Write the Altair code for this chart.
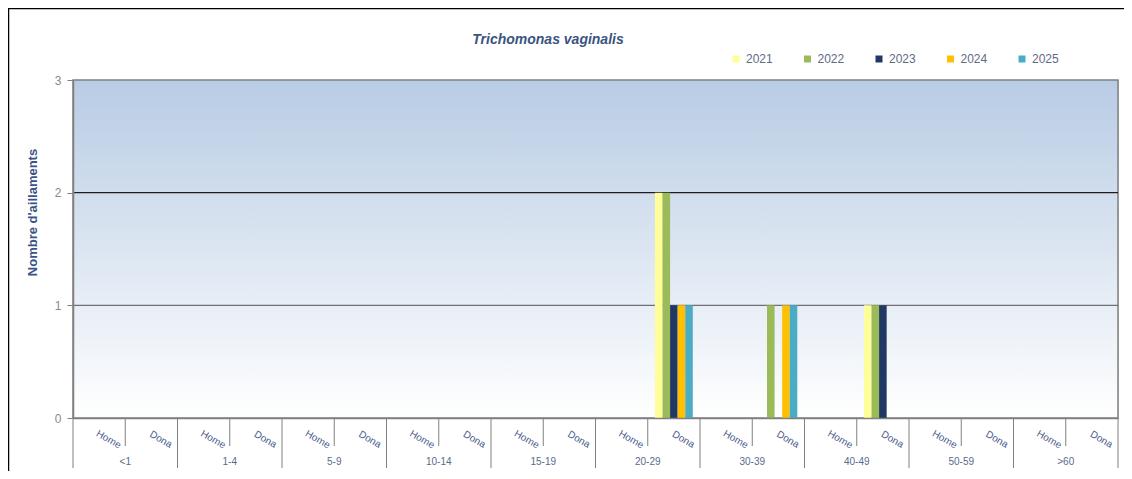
import altair as alt
import pandas as pd

# ---- data ----
age_groups = ["<1", "1-4", "5-9", "10-14", "15-19", "20-29", "30-39", "40-49", "50-59", ">60"]
sexes = ["Home", "Dona"]
years = ["2021", "2022", "2023", "2024", "2025"]
year_colors = ["#ffff99", "#9bbb59", "#1f3864", "#ffc000", "#4bacc6"]

home_2021 = [0, 0, 0, 0, 0, 0, 0, 0, 0, 0]
home_2022 = [0, 0, 0, 0, 0, 0, 0, 0, 0, 0]
home_2023 = [0, 0, 0, 0, 0, 0, 0, 0, 0, 0]
home_2024 = [0, 0, 0, 0, 0, 0, 0, 0, 0, 0]
home_2025 = [0, 0, 0, 0, 0, 0, 0, 0, 0, 0]

dona_2021 = [0, 0, 0, 0, 0, 2, 0, 1, 0, 0]
dona_2022 = [0, 0, 0, 0, 0, 2, 1, 1, 0, 0]
dona_2023 = [0, 0, 0, 0, 0, 1, 0, 1, 0, 0]
dona_2024 = [0, 0, 0, 0, 0, 1, 1, 0, 0, 0]
dona_2025 = [0, 0, 0, 0, 0, 1, 1, 0, 0, 0]

y_ticks = [0, 1, 2, 3]
grid_values = [1, 2]

title_text = "Trichomonas vaginalis"
y_title = "Nombre d'aillaments"

# ---- build tables ----
series = {
    "Home": [home_2021, home_2022, home_2023, home_2024, home_2025],
    "Dona": [dona_2021, dona_2022, dona_2023, dona_2024, dona_2025],
}
cats = [f"{g}|{s}" for g in age_groups for s in sexes]
rows = []
for s in sexes:
    for yi, y in enumerate(years):
        for gi, g in enumerate(age_groups):
            rows.append({"cat": f"{g}|{s}", "year": y, "value": series[s][yi][gi]})
bars_df = pd.DataFrame(rows)

cat_df = pd.DataFrame({"cat": cats, "sex": [c.split("|")[1] for c in cats]})
home_df = pd.DataFrame({"cat": [f"{g}|Home" for g in age_groups]})
dona_df = pd.DataFrame({"cat": [f"{g}|Dona" for g in age_groups], "group": age_groups})
last_df = pd.DataFrame({"cat": [f"{age_groups[-1]}|Dona"]})
grid_df = pd.DataFrame({"value": grid_values, "dark": [v == 2 for v in grid_values]})
one_df = pd.DataFrame({"a": [0]})
title_df = pd.DataFrame({"t": [title_text]})

FONT = "Liberation Sans"
W, H = 1045, 338

x_scale = alt.Scale(domain=cats, paddingInner=0, paddingOuter=0)
y_scale = alt.Scale(domain=[0, 3], nice=False)

bg = alt.Chart(one_df).mark_rect(
    fill=alt.LinearGradient(
        gradient="linear",
        stops=[alt.GradientStop(color="#b8cce4", offset=0),
               alt.GradientStop(color="#ffffff", offset=1)],
        x1=0, x2=0, y1=0, y2=1,
    ),
    stroke="#808080", strokeWidth=1.5,
).encode(x=alt.value(0), x2=alt.value("width"), y=alt.value(0), y2=alt.value("height"))

grid = alt.Chart(grid_df).mark_rule(strokeWidth=1.2).encode(
    y=alt.Y("value:Q", scale=y_scale),
    color=alt.condition("datum.dark", alt.value("#1e1e1e"), alt.value("#707070")),
)

bars = alt.Chart(bars_df).mark_bar(stroke=None).encode(
    x=alt.X("cat:N", sort=cats, scale=x_scale,
            axis=alt.Axis(title=None, labels=False, ticks=False,
                          domainColor="#808080", domainWidth=1.5, zindex=1)),
    xOffset=alt.XOffset("year:N", sort=years,
                        scale=alt.Scale(paddingInner=0, paddingOuter=0.95)),
    y=alt.Y("value:Q", scale=y_scale,
            axis=alt.Axis(values=y_ticks, grid=False, title=y_title, format="d",
                          titleFont=FONT, titleFontSize=13, titleFontWeight="bold",
                          titleColor="#3a5488", titleAngle=-90, titleX=-41, titleY=132,
                          titleAlign="center", titleBaseline="middle",
                          labelFont=FONT, labelFontSize=12, labelColor="#8a8a8a",
                          labelPadding=6, tickSize=6, tickColor="#808080",
                          domainColor="#808080", domainWidth=1.5, zindex=1)),
    color=alt.Color("year:N", sort=years,
                    scale=alt.Scale(domain=years, range=year_colors),
                    legend=alt.Legend(title=None, orient="none", legendX=657, legendY=-27,
                                      direction="horizontal", symbolType="square",
                                      symbolSize=49, symbolStrokeWidth=0,
                                      labelFont=FONT, labelFontSize=12,
                                      labelColor="#5f6a86", labelOffset=4,
                                      columnPadding=28.5)),
)

sex_text = alt.Chart(cat_df).mark_text(
    font=FONT, fontSize=10, color="#4a5a8c", angle=30, align="center",
    baseline="middle", dx=11,
).encode(x=alt.X("cat:N"), y=alt.value(H + 16), text="sex:N")

sep_long = alt.Chart(home_df).mark_rule(color="#808080", strokeWidth=1).encode(
    x=alt.X("cat:N", bandPosition=0), y=alt.value(H), y2=alt.value(H + 50))
sep_end = alt.Chart(last_df).mark_rule(color="#808080", strokeWidth=1).encode(
    x=alt.X("cat:N", bandPosition=1), y=alt.value(H), y2=alt.value(H + 50))
sep_mid = alt.Chart(dona_df).mark_rule(color="#808080", strokeWidth=1).encode(
    x=alt.X("cat:N", bandPosition=0), y=alt.value(H), y2=alt.value(H + 28))

age_text = alt.Chart(dona_df).mark_text(
    font=FONT, fontSize=10, color="#5a6a8a", baseline="middle", align="center"
).encode(x=alt.X("cat:N", bandPosition=0), y=alt.value(H + 44), text="group:N")

title_mark = alt.Chart(title_df).mark_text(
    font=FONT, fontSize=14, fontStyle="italic", fontWeight="bold", color="#3b5480",
    align="center", baseline="middle",
).encode(x=alt.value(475), y=alt.value(-40), text="t:N")

frame = alt.Chart(one_df).mark_rect(fill=None, stroke="#000000", strokeWidth=1.5).encode(
    x=alt.value(-64.5), x2=alt.value(W + 200), y=alt.value(-71.5), y2=alt.value(H + 200))

chart = alt.layer(bg, grid, bars, sex_text, sep_long, sep_end, sep_mid, age_text,
                  title_mark, frame).properties(
    width=W, height=H,
    autosize=alt.AutoSizeParams(type="none"),
    padding={"left": 65, "top": 72, "right": 6, "bottom": 53},
).configure_view(stroke=None).configure(background="white")

chart.save("out.html", embed_options={"renderer": "svg", "actions": False})
